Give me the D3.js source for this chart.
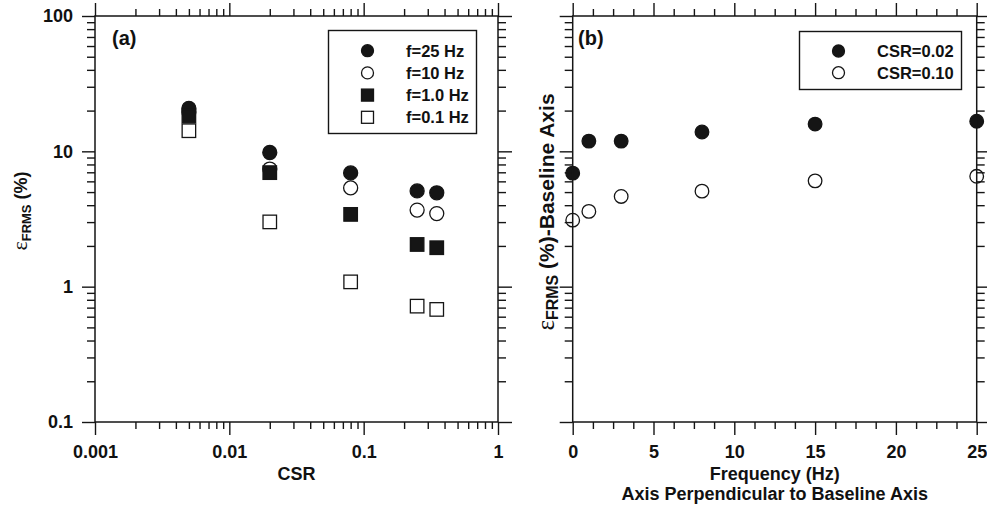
<!DOCTYPE html>
<html>
<head>
<meta charset="utf-8">
<title>FRMS error vs CSR and frequency</title>
<script src="https://cdn.jsdelivr.net/npm/d3@7/dist/d3.min.js"></script>
<style>
  body { margin: 0; background: #fff; }
  text { font-family: "Liberation Sans", Arial, sans-serif; font-weight: bold; fill: #111; }
</style>
</head>
<body>
<svg id="chart"></svg>
<script>
// ---- data ----
var csr = [0.005, 0.02, 0.08, 0.25, 0.35];
var err25 = [20.8, 9.8, 6.93, 5.1, 4.94];
var err10 = [19.5, 7.4, 5.37, 3.68, 3.47];
var err1 = [18.2, 6.96, 3.42, 2.05, 1.94];
var err01 = [14.2, 3.01, 1.085, 0.718, 0.679];

var freq = [0, 1, 3, 8, 15, 25];
var errCsr002 = [6.9, 11.9, 11.9, 13.9, 15.9, 16.7];
var errCsr010 = [3.1, 3.6, 4.64, 5.08, 6.05, 6.54];

var yTicks = [0.1, 1, 10, 100];
var csrTicks = [0.001, 0.01, 0.1, 1];
var freqTicks = [0, 5, 10, 15, 20, 25];

var width = 987, height = 509;
var plotTop = 16, plotBottom = 422;
var ink = "#151515";

var svg = d3.select("#chart").attr("width", width).attr("height", height);

var y = d3.scaleLog().domain([0.1, 100]).range([plotBottom, plotTop]);
var xa = d3.scaleLog().domain([0.001, 1]).range([95, 498]);
var xb = d3.scaleLinear().domain([0, 25]).range([572.7, 976.7]);

// minor ticks for the log axes
function logMinor(ticks) {
  var out = [];
  for (var i = 0; i < ticks.length - 1; i++) {
    for (var k = 2; k <= 9; k++) out.push(ticks[i] * k);
  }
  return out;
}
var yMinor = logMinor(yTicks);
var csrMinor = logMinor(csrTicks);
var freqMinor = d3.range(0, 25.01, 1.25).filter(function(v) { return v % 5 != 0; });

function fmt(v) { return String(v); }

function styleAxis(g, labels) {
  g.select(".domain").remove();
  g.selectAll("line").attr("stroke", ink).attr("stroke-width", 1.4);
  g.selectAll("text").attr("font-size", 18).attr("font-family", "Liberation Sans, Arial, sans-serif")
    .attr("font-weight", "bold").attr("fill", ink);
  if (!labels) g.selectAll("text").remove();
}

function drawFrame(x, xMajor, xMinor, showYLabels, xFormat) {
  var x0 = x.range()[0], x1 = x.range()[1];
  var g = svg.append("g");

  g.append("g").attr("transform", "translate(0," + plotBottom + ")")
    .call(d3.axisBottom(x).tickValues(xMajor).tickSize(13).tickPadding(10).tickFormat(xFormat))
    .call(function(s) { styleAxis(s, true); });
  g.append("g").attr("transform", "translate(0," + plotBottom + ")")
    .call(d3.axisBottom(x).tickValues(xMinor).tickSize(7))
    .call(function(s) { styleAxis(s, false); });
  g.append("g").attr("transform", "translate(0," + plotTop + ")")
    .call(d3.axisTop(x).tickValues(xMajor).tickSize(13))
    .call(function(s) { styleAxis(s, false); });
  g.append("g").attr("transform", "translate(0," + plotTop + ")")
    .call(d3.axisTop(x).tickValues(xMinor).tickSize(7))
    .call(function(s) { styleAxis(s, false); });

  g.append("g").attr("transform", "translate(" + x0 + ",0)")
    .call(d3.axisLeft(y).tickValues(yTicks).tickSize(13).tickPadding(9).tickFormat(fmt))
    .call(function(s) { styleAxis(s, showYLabels); });
  g.append("g").attr("transform", "translate(" + x0 + ",0)")
    .call(d3.axisLeft(y).tickValues(yMinor).tickSize(8))
    .call(function(s) { styleAxis(s, false); });
  g.append("g").attr("transform", "translate(" + x1 + ",0)")
    .call(d3.axisRight(y).tickValues(yTicks).tickSize(14))
    .call(function(s) { styleAxis(s, false); });
  g.append("g").attr("transform", "translate(" + x1 + ",0)")
    .call(d3.axisRight(y).tickValues(yMinor).tickSize(8))
    .call(function(s) { styleAxis(s, false); });

  g.append("rect")
    .attr("x", x0).attr("y", plotTop)
    .attr("width", x1 - x0).attr("height", plotBottom - plotTop)
    .attr("fill", "none").attr("stroke", ink).attr("stroke-width", 1.5);
}

// marker helpers
var R = 7, S = 13.5;
function drawCircles(g, xs, ys, x, filled, r) {
  g.selectAll(null).data(xs).enter().append("circle")
    .attr("cx", function(d) { return x(d); })
    .attr("cy", function(d, i) { return y(ys[i]); })
    .attr("r", r || R)
    .attr("fill", filled ? ink : "#fff")
    .attr("stroke", ink).attr("stroke-width", 1.3);
}
function drawSquares(g, xs, ys, x, filled, s) {
  s = s || S;
  g.selectAll(null).data(xs).enter().append("rect")
    .attr("x", function(d) { return x(d) - s / 2; })
    .attr("y", function(d, i) { return y(ys[i]) - s / 2; })
    .attr("width", s).attr("height", s)
    .attr("fill", filled ? ink : "#fff")
    .attr("stroke", ink).attr("stroke-width", 1.3);
}

// ---- panel (a) ----
var ga = svg.append("g");
drawCircles(ga, csr, err10, xa, false);
drawCircles(ga, csr, err25, xa, true);
drawSquares(ga, csr, err1, xa, true);
drawSquares(ga, csr, err01, xa, false);
drawFrame(xa, csrTicks, csrMinor, true, fmt);

// ---- panel (b) ----
var gb = svg.append("g");
drawCircles(gb, freq, errCsr002, xb, true, 6.8);
drawCircles(gb, freq, errCsr010, xb, false, 6.8);
drawFrame(xb, freqTicks, freqMinor, false, fmt);

// panel letters
svg.append("text").attr("x", 112).attr("y", 45).attr("font-size", 20).text("(a)");
svg.append("text").attr("x", 578).attr("y", 45).attr("font-size", 20).text("(b)");

// legend (a)
var legA = svg.append("g");
legA.append("rect").attr("x", 328.5).attr("y", 30.5).attr("width", 148).attr("height", 103)
  .attr("fill", "#fff").attr("stroke", ink).attr("stroke-width", 1.4);
var legAItems = [
  { label: "f=25 Hz", shape: "circle", filled: true },
  { label: "f=10 Hz", shape: "circle", filled: false },
  { label: "f=1.0 Hz", shape: "square", filled: true },
  { label: "f=0.1 Hz", shape: "square", filled: false }
];
legAItems.forEach(function(d, i) {
  var cy = 50.7 + i * 22.2;
  if (d.shape == "circle") {
    legA.append("circle").attr("cx", 367.5).attr("cy", cy).attr("r", 6)
      .attr("fill", d.filled ? ink : "#fff").attr("stroke", ink).attr("stroke-width", 1.3);
  } else {
    legA.append("rect").attr("x", 367.5 - 6).attr("y", cy - 6).attr("width", 12).attr("height", 12)
      .attr("fill", d.filled ? ink : "#fff").attr("stroke", ink).attr("stroke-width", 1.3);
  }
  legA.append("text").attr("x", 406).attr("y", cy).attr("dy", "0.36em")
    .attr("font-size", 16.5).text(d.label);
});

// legend (b)
var legB = svg.append("g");
legB.append("rect").attr("x", 799.5).attr("y", 31.5).attr("width", 162).attr("height", 58)
  .attr("fill", "#fff").attr("stroke", ink).attr("stroke-width", 1.4);
[{ label: "CSR=0.02", filled: true }, { label: "CSR=0.10", filled: false }].forEach(function(d, i) {
  var cy = 51 + i * 21.7;
  legB.append("circle").attr("cx", 838.5).attr("cy", cy).attr("r", 6)
    .attr("fill", d.filled ? ink : "#fff").attr("stroke", ink).attr("stroke-width", 1.3);
  legB.append("text").attr("x", 877).attr("y", cy).attr("dy", "0.36em")
    .attr("font-size", 16.5).text(d.label);
});

// axis titles
svg.append("text").attr("x", 296.5).attr("y", 480).attr("text-anchor", "middle")
  .attr("font-size", 18).text("CSR");
svg.append("text").attr("x", 774.7).attr("y", 480).attr("text-anchor", "middle")
  .attr("font-size", 18).text("Frequency (Hz)");
svg.append("text").attr("x", 774.7).attr("y", 500).attr("text-anchor", "middle")
  .attr("font-size", 18).text("Axis Perpendicular to Baseline Axis");

function yTitle(cx, cy, rest, size) {
  var t = svg.append("text")
    .attr("transform", "translate(" + cx + "," + cy + ") rotate(-90)")
    .attr("text-anchor", "middle").attr("font-size", size);
  t.append("tspan").attr("font-family", "Liberation Serif, serif").attr("font-weight", "normal")
    .attr("font-size", size + 4).text("\u03b5");
  t.append("tspan").attr("dy", 4).attr("font-size", size - 5).text("FRMS");
  t.append("tspan").attr("dy", -4).text(rest);
}
yTitle(27, 211, " (%)", 18);
yTitle(554, 212, " (%)-Baseline Axis", 21);
</script>
</body>
</html>
